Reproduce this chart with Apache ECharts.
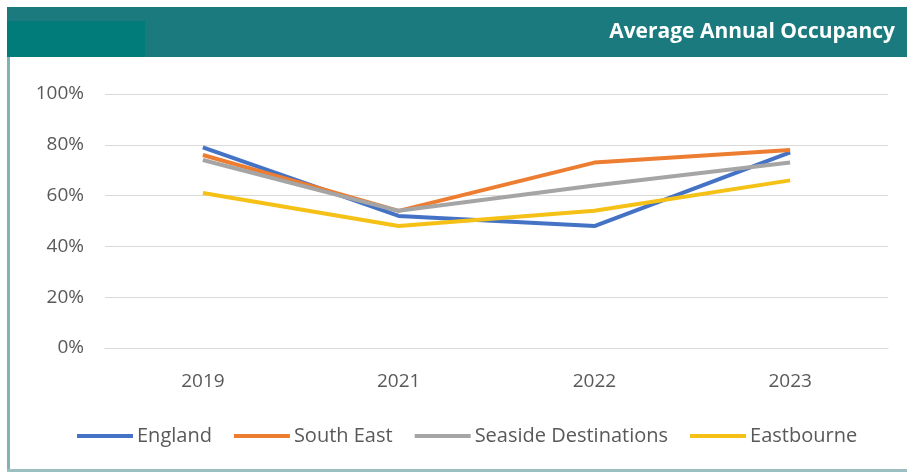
<!DOCTYPE html>
<html>
<head>
<meta charset="utf-8">
<script src="https://cdn.jsdelivr.net/npm/echarts@6/dist/echarts.min.js"></script>
<style>
  html, body { margin: 0; padding: 0; background: #ffffff; }
  #chart { width: 907px; height: 475px; }
</style>
</head>
<body>
<div id="chart"></div>
<script>
// Average annual occupancy by area, 2019–2023 (2020 not reported)
const years = ['2019', '2021', '2022', '2023'];
const england = [79, 52, 48, 77];
const southEast = [76, 54, 73, 78];
const seaside = [74, 54, 64, 73];
const eastbourne = [61, 48, 54, 66];
const yTicks = [0, 20, 40, 60, 80, 100];

const chartTitle = 'Average Annual Occupancy';
const seriesDefs = [
  { name: 'England', data: england, color: '#4472c4' },
  { name: 'South East', data: southEast, color: '#ed7d31' },
  { name: 'Seaside Destinations', data: seaside, color: '#a5a5a5' },
  { name: 'Eastbourne', data: eastbourne, color: '#f5c116' }
];

const FONT = '"Open Sans", sans-serif';
const chart = echarts.init(document.getElementById('chart'), null, { renderer: 'canvas' });

chart.setOption({
  backgroundColor: '#ffffff',
  animation: false,
  graphic: [
    // header band
    { type: 'rect', left: 7, top: 7, shape: { width: 900, height: 50 }, style: { fill: '#1b7a7d' }, z: 0 },
    { type: 'rect', left: 7, top: 21, shape: { width: 138, height: 36 }, style: { fill: '#027b7b' }, z: 1 },
    // frame lines
    { type: 'rect', left: 7, top: 57, shape: { width: 3, height: 415 }, style: { fill: '#7fb3b5' }, z: 1 },
    { type: 'rect', left: 7, top: 469, shape: { width: 900, height: 3 }, style: { fill: '#9cc0c2' }, z: 1 },
    {
      type: 'text', right: 12, top: 22, z: 2,
      style: {
        text: chartTitle,
        fill: '#ffffff',
        font: 'bold 21px "Open Sans", sans-serif'
      }
    }
  ],
  legend: {
    bottom: 24,
    left: 72,
    itemWidth: 56,
    itemHeight: 4,
    itemGap: 22,
    icon: 'rect',
    textStyle: { color: '#595959', fontSize: 20, fontFamily: FONT, padding: [0, 0, 0, -1] },
    data: seriesDefs.map(s => s.name)
  },
  grid: { left: 105, right: 19, top: 94, bottom: 127, containLabel: false },
  xAxis: {
    type: 'category',
    data: years,
    boundaryGap: true,
    axisLine: { show: true, lineStyle: { color: '#d9d9d9', width: 1 } },
    axisTick: { show: false },
    axisLabel: { color: '#595959', fontSize: 19, margin: 24, fontFamily: FONT }
  },
  yAxis: {
    type: 'value',
    min: 0,
    max: 100,
    interval: 20,
    axisLine: { show: false },
    axisTick: { show: false },
    splitLine: { lineStyle: { color: '#d9d9d9', width: 1 } },
    axisLabel: {
      color: '#595959', fontSize: 19, margin: 21, fontFamily: FONT,
      formatter: v => (yTicks.includes(v) ? v + '%' : '')
    }
  },
  series: seriesDefs.map(s => ({
    name: s.name,
    type: 'line',
    data: s.data,
    symbol: 'none',
    lineStyle: { color: s.color, width: 4 },
    itemStyle: { color: s.color }
  }))
});
</script>
</body>
</html>
